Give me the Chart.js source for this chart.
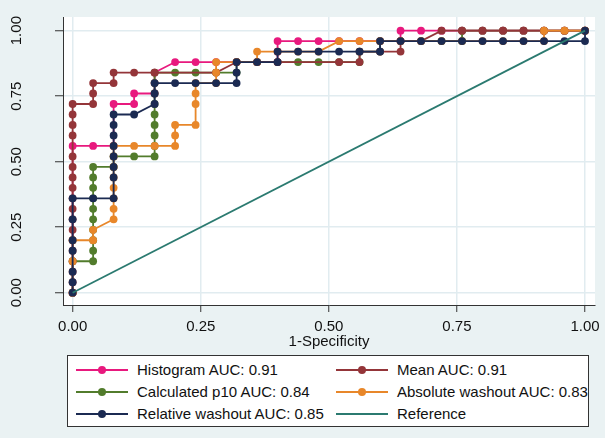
<!DOCTYPE html>
<html>
<head>
<meta charset="utf-8">
<script src="https://cdn.jsdelivr.net/npm/chart.js@4.4.1/dist/chart.umd.min.js"></script>
<style>
  html, body { margin: 0; padding: 0; background: #eaf2f3; }
  #wrap { position: relative; width: 605px; height: 438px; overflow: hidden; }
  #legend {
    position: absolute; left: 67px; top: 355px; width: 522px; height: 72px;
    background: #fff; border: 1px solid #333; box-sizing: border-box;
    font-family: 'Liberation Sans', Arial, sans-serif; font-size: 15px; color: #111;
  }
  .item { position: absolute; height: 20px; line-height: 20px; white-space: nowrap; }
  .sym { position: absolute; left: 0; top: 9px; width: 52px; height: 2px; }
  .dot { position: absolute; left: 22px; top: -3px; width: 8px; height: 8px; border-radius: 50%; }
  .txt { position: absolute; left: 61px; top: 0; }
</style>
</head>
<body>
<div id="wrap">
  <canvas id="roc" width="605" height="438"></canvas>
  <div id="legend"></div>
</div>
<script>
// ROC points, 1-specificity (x) and sensitivity (y)
const histX = [0, 0, 0.04, 0.08, 0.08, 0.12, 0.12, 0.16, 0.16, 0.16, 0.20, 0.24, 0.28, 0.32, 0.36, 0.40, 0.40, 0.40, 0.44, 0.48, 0.52, 0.56, 0.60, 0.64, 0.64, 0.68, 0.72, 0.76, 0.80, 0.84, 0.88, 0.92, 0.96, 1.00];
const histY = [0, 0.56, 0.56, 0.56, 0.72, 0.72, 0.76, 0.76, 0.80, 0.84, 0.88, 0.88, 0.88, 0.88, 0.88, 0.88, 0.92, 0.96, 0.96, 0.96, 0.96, 0.96, 0.96, 0.96, 1.00, 1.00, 1.00, 1.00, 1.00, 1.00, 1.00, 1.00, 1.00, 1.00];

const meanX = [0, 0, 0, 0, 0, 0, 0, 0, 0, 0, 0, 0, 0, 0, 0, 0, 0, 0, 0.04, 0.04, 0.04, 0.08, 0.08, 0.12, 0.16, 0.28, 0.32, 0.36, 0.40, 0.52, 0.56, 0.56, 0.60, 0.64, 0.64, 0.68, 0.72, 0.76, 0.80, 0.84, 0.88, 0.92, 0.96, 1.00];
const meanY = [0, 0.04, 0.08, 0.12, 0.16, 0.20, 0.24, 0.28, 0.32, 0.36, 0.40, 0.44, 0.48, 0.52, 0.60, 0.64, 0.68, 0.72, 0.72, 0.76, 0.80, 0.80, 0.84, 0.84, 0.84, 0.84, 0.88, 0.88, 0.88, 0.88, 0.88, 0.92, 0.92, 0.92, 0.96, 0.96, 1.00, 1.00, 1.00, 1.00, 1.00, 1.00, 1.00, 1.00];

const p10X = [0, 0, 0.04, 0.04, 0.04, 0.04, 0.04, 0.04, 0.04, 0.04, 0.04, 0.04, 0.08, 0.08, 0.12, 0.16, 0.16, 0.16, 0.16, 0.16, 0.16, 0.16, 0.16, 0.16, 0.20, 0.24, 0.28, 0.32, 0.32, 0.36, 0.40, 0.44, 0.48, 0.52, 0.56, 0.56, 0.60, 0.60, 0.64, 0.68, 0.72, 0.76, 0.76, 0.80, 0.84, 0.88, 0.92, 0.96, 1.00];
const p10Y = [0, 0.12, 0.12, 0.16, 0.20, 0.24, 0.28, 0.32, 0.36, 0.40, 0.44, 0.48, 0.48, 0.52, 0.52, 0.52, 0.56, 0.60, 0.64, 0.68, 0.72, 0.76, 0.80, 0.84, 0.84, 0.84, 0.84, 0.84, 0.88, 0.88, 0.88, 0.88, 0.88, 0.88, 0.88, 0.92, 0.92, 0.96, 0.96, 0.96, 0.96, 0.96, 1.00, 1.00, 1.00, 1.00, 1.00, 1.00, 1.00];

const absX = [0, 0, 0, 0.04, 0.04, 0.08, 0.08, 0.08, 0.08, 0.08, 0.08, 0.08, 0.08, 0.12, 0.16, 0.20, 0.20, 0.20, 0.24, 0.24, 0.24, 0.24, 0.28, 0.28, 0.28, 0.32, 0.36, 0.36, 0.40, 0.44, 0.48, 0.52, 0.56, 0.60, 0.64, 0.68, 0.72, 0.76, 0.80, 0.84, 0.88, 0.92, 0.92, 0.96, 1.00];
const absY = [0, 0.12, 0.20, 0.20, 0.24, 0.28, 0.32, 0.36, 0.40, 0.44, 0.48, 0.52, 0.56, 0.56, 0.56, 0.56, 0.60, 0.64, 0.64, 0.72, 0.76, 0.80, 0.80, 0.84, 0.88, 0.88, 0.88, 0.92, 0.92, 0.92, 0.92, 0.96, 0.96, 0.96, 0.96, 0.96, 0.96, 0.96, 0.96, 0.96, 0.96, 0.96, 1.00, 1.00, 1.00];

const relX = [0, 0, 0, 0, 0, 0, 0, 0.04, 0.08, 0.08, 0.08, 0.08, 0.08, 0.08, 0.08, 0.08, 0.12, 0.16, 0.16, 0.16, 0.20, 0.24, 0.28, 0.32, 0.32, 0.32, 0.36, 0.40, 0.40, 0.44, 0.48, 0.52, 0.56, 0.60, 0.60, 0.64, 0.68, 0.72, 0.76, 0.80, 0.84, 0.88, 0.92, 0.96, 1.00, 1.00];
const relY = [0, 0.04, 0.08, 0.16, 0.20, 0.28, 0.36, 0.36, 0.36, 0.44, 0.48, 0.52, 0.56, 0.60, 0.64, 0.68, 0.68, 0.72, 0.76, 0.80, 0.80, 0.80, 0.80, 0.80, 0.84, 0.88, 0.88, 0.88, 0.92, 0.92, 0.92, 0.92, 0.92, 0.92, 0.96, 0.96, 0.96, 0.96, 0.96, 0.96, 0.96, 0.96, 0.96, 0.96, 0.96, 1.00];

const refX = [0, 1];
const refY = [0, 1];

const seriesLabels = ['Histogram AUC: 0.91', 'Mean AUC: 0.91', 'Calculated p10 AUC: 0.84', 'Absolute washout AUC: 0.83', 'Relative washout AUC: 0.85', 'Reference'];
const xTicks = [0, 0.25, 0.5, 0.75, 1];
const yTicks = [0, 0.25, 0.5, 0.75, 1];
const xTitle = '1-Specificity';

const colors = ['#e8197e', '#943539', '#527c2c', '#e8872a', '#1b2a52', '#2b7a70'];
const FONT = "'Liberation Sans', Arial, sans-serif";

const pts = (xs, ys) => xs.map((x, i) => ({ x: x, y: ys[i] }));

// stacking order: lower number is drawn on top
const series = [
  { data: pts(histX, histY), order: 5 },
  { data: pts(meanX, meanY), order: 3 },
  { data: pts(p10X, p10Y), order: 4 },
  { data: pts(absX, absY), order: 2 },
  { data: pts(relX, relY), order: 1 },
  { data: pts(refX, refY), order: 0, marker: false },
];

const bgPlugin = {
  id: 'bg',
  beforeDraw(chart) {
    const { ctx, chartArea: a } = chart;
    ctx.save();
    ctx.fillStyle = '#eaf2f3';
    ctx.fillRect(0, 0, chart.width, chart.height);
    ctx.fillStyle = '#ffffff';
    ctx.fillRect(a.left, a.top, a.right - a.left, a.bottom - a.top);
    ctx.restore();
  }
};

new Chart(document.getElementById('roc'), {
  type: 'line',
  data: {
    datasets: series.map((s, i) => ({
      label: seriesLabels[i],
      data: s.data,
      order: s.order,
      borderColor: colors[i],
      backgroundColor: colors[i],
      pointBackgroundColor: colors[i],
      pointBorderWidth: 0,
      pointRadius: s.marker === false ? 0 : 3.9,
      borderWidth: 1.8,
      tension: 0,
      fill: false,
      clip: false,
    }))
  },
  options: {
    responsive: false,
    animation: false,
    layout: { padding: { top: 17, right: 10, bottom: 85, left: 0 } },
    plugins: { legend: { display: false }, tooltip: { enabled: false } },
    scales: {
      x: {
        type: 'linear',
        min: -0.0188,
        max: 1.0195,
        afterBuildTicks: s => { s.ticks = xTicks.map(v => ({ value: v })); },
        afterFit: s => { s.height = 48; s.paddingLeft = 0; s.paddingRight = 0; },
        ticks: { callback: v => v.toFixed(2), font: { family: FONT, size: 15 }, color: '#111', padding: 6, maxRotation: 0 },
        grid: { color: '#e1ecf0', lineWidth: 1.5, tickLength: 7, tickColor: '#333', tickWidth: 1 },
        border: { color: '#333', width: 1 },
        title: { display: true, text: xTitle, font: { family: FONT, size: 15 }, color: '#111', padding: { top: 0, bottom: 2 } }
      },
      y: {
        type: 'linear',
        min: -0.047,
        max: 1.052,
        afterBuildTicks: s => { s.ticks = yTicks.map(v => ({ value: v })); },
        afterFit: s => { s.width = 63; s.paddingTop = 0; s.paddingBottom = 0; },
        ticks: { callback: v => v.toFixed(2), font: { family: FONT, size: 15 }, color: '#111', minRotation: 90, maxRotation: 90, crossAlign: 'center', padding: 24 },
        grid: { color: '#e1ecf0', lineWidth: 1.5, tickLength: 8, tickColor: '#333', tickWidth: 1 },
        border: { color: '#333', width: 1 }
      }
    }
  },
  plugins: [bgPlugin]
});

// legend box, two columns like the original
const legend = document.getElementById('legend');
const colLeft = [8, 268];
const rowTop = [4, 26, 48];
seriesLabels.forEach((label, i) => {
  const item = document.createElement('div');
  item.className = 'item';
  item.style.left = colLeft[i % 2] + 'px';
  item.style.top = rowTop[Math.floor(i / 2)] + 'px';
  const sym = document.createElement('div');
  sym.className = 'sym';
  sym.style.background = colors[i];
  if (series[i].marker !== false) {
    const dot = document.createElement('div');
    dot.className = 'dot';
    dot.style.background = colors[i];
    sym.appendChild(dot);
  }
  const txt = document.createElement('span');
  txt.className = 'txt';
  txt.textContent = label;
  item.appendChild(sym);
  item.appendChild(txt);
  legend.appendChild(item);
});
</script>
</body>
</html>
